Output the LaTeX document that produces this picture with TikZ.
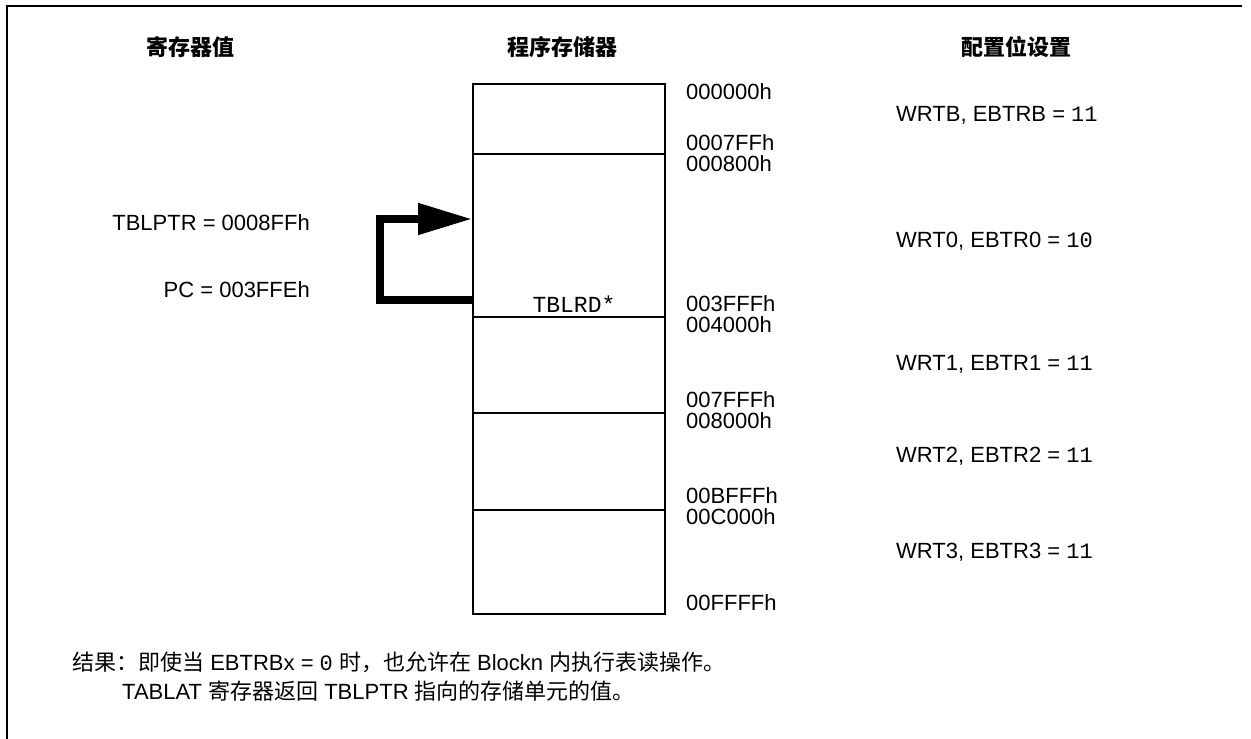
\documentclass[tikz,border=0pt]{standalone}
\usepackage{fontspec}
\setmainfont{Liberation Sans}
\setmonofont{Liberation Mono}
\newfontfamily\cjk{Noto Sans CJK SC}
\usetikzlibrary{arrows.meta}
\begin{document}
\begin{tikzpicture}[x=1pt,y=-1pt,
  lbl/.style={inner sep=0pt,font=\fontsize{22}{26}\selectfont},
  head/.style={inner sep=0pt,font=\fontsize{22}{26}\selectfont\cjk\bfseries},
  memblk/.style={draw,line width=2pt,minimum width=192pt,inner sep=0pt},
  ptr/.style={line width=8pt,line join=miter,-{Triangle[length=54pt,width=30pt]}}]
\useasboundingbox (0,0) rectangle (1251,739);
% frame (top and left only)
\draw[line width=2.2pt] (7,739) -- (7,6) -- (1242,6);
% headings
\node[head] (h1) at (190,47) {寄存器值};
\node[head] (h2) at (562,47) {程序存储器};
\node[head] (h3) at (1016,47) {配置位设置};
% memory blocks
\node[memblk,minimum height=70pt,anchor=north west] (b0) at (472,83) {};
\node[memblk,minimum height=163pt,anchor=north west] (b1) at (472,153) {};
\node[memblk,minimum height=96pt,anchor=north west] (b2) at (472,316) {};
\node[memblk,minimum height=97pt,anchor=north west] (b3) at (472,412) {};
\node[memblk,minimum height=104pt,anchor=north west] (b4) at (472,509) {};
\node[inner sep=0pt,font=\fontsize{23}{26}\selectfont\ttfamily] (rd) at (574,304) {TBLRD*};
% addresses
\foreach \t/\yy/\n in {000000h/92/a0,0007FFh/143/a1,000800h/164/a2,003FFFh/304/a3,004000h/325/a4,007FFFh/400/a5,008000h/421/a6,00BFFFh/496/a7,00C000h/517/a8,00FFFFh/603/a9}
  \node[lbl,anchor=west] (\n) at (686,\yy) {\t};
% config settings
\node[lbl,anchor=west] (wb) at (896,115) {WRTB, EBTRB = \texttt{11}};
\node[lbl,anchor=west] (w0) at (896,241) {WRT0, EBTR0 = \texttt{10}};
\node[lbl,anchor=west] (w1) at (896,364) {WRT1, EBTR1 = \texttt{11}};
\node[lbl,anchor=west] (w2) at (896,456) {WRT2, EBTR2 = \texttt{11}};
\node[lbl,anchor=west] (w3) at (896,552) {WRT3, EBTR3 = \texttt{11}};
% register values
\node[lbl,anchor=east] (tp) at (310,223) {TBLPTR = 0008FFh};
\node[lbl,anchor=east] (pc) at (310,290) {PC = 003FFEh};
% pointer arrow
\coordinate (s) at (b1.west |- 0,300);
\coordinate (e) at (b1.west |- 0,219);
\draw[ptr] (s) -- (380,300) -- (380,219) -- (e);
% result text
\node[lbl,anchor=west] (r1) at (72,662) {{\cjk 结果：即使当} EBTRBx = \texttt{0} {\cjk 时，也允许在} Blockn {\cjk 内执行表读操作。}};
\node[lbl,anchor=west] (r2) at (122,691) {TABLAT {\cjk 寄存器返回} TBLPTR {\cjk 指向的存储单元的值。}};
\end{tikzpicture}
\end{document}
